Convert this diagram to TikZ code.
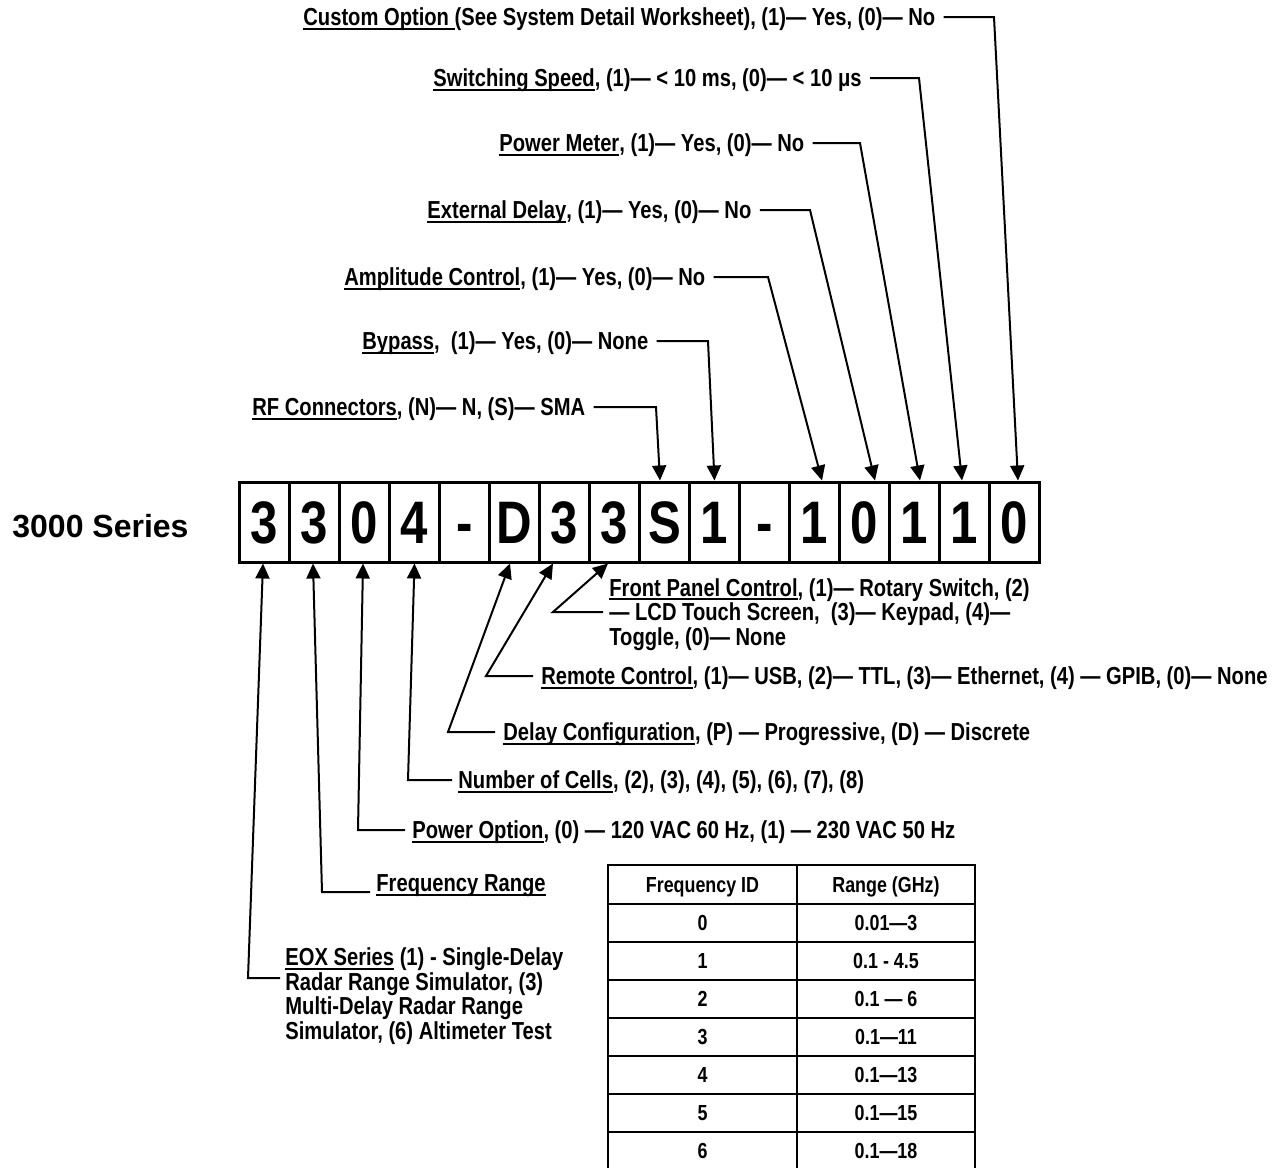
\documentclass[tikz,border=0pt]{standalone}
\usepackage{fontspec}
\setmainfont{Liberation Sans}[FakeStretch=0.82]
\newfontfamily\widefont{Liberation Sans}
\usetikzlibrary{arrows.meta}
\newcommand\ul[1]{\setbox0\hbox{#1}\rlap{\rule[-2.1pt]{\wd0}{1.1pt}}\box0\relax}

\begin{document}
\begin{tikzpicture}[x=0.5pt,y=-0.5pt,
  cell/.style={draw,line width=1.5pt,minimum width=25pt,minimum height=40pt,
    inner sep=0pt,text height=21.5pt,text depth=0pt,
    font=\bfseries\fontsize{30}{30}\selectfont},
  lbl/.style={anchor=west,inner sep=0pt,text height=8.8pt,text depth=0pt,
    font=\bfseries\fontsize{12.3}{12.25}\selectfont},
  para/.style={anchor=base west,inner sep=0pt,align=left,
    font=\bfseries\fontsize{12.3}{12.25}\selectfont},
  tcell/.style={inner sep=0pt,text height=7.8pt,text depth=0pt,
    font=\bfseries\fontsize{10.9}{10.9}\selectfont},
  conn/.style={line width=1pt,-{Triangle[length=7.5pt,width=7pt]}},
  tbl/.style={line width=1.25pt}]
            \useasboundingbox (0,0) rectangle (1281,1168);

            \draw (12,537) node[anchor=base west,inner sep=0pt,
            font=\widefont\bfseries\fontsize{16}{16}\selectfont] (series) {3000 Series};

            % the part number
            \draw (264.5,522) node[cell] (c1) {3};
            \draw (314.5,522) node[cell] (c2) {3};
            \draw (364.5,522) node[cell] (c3) {0};
            \draw (414.5,522) node[cell] (c4) {4};
            \draw (464.5,522) node[cell] (c5) {-};
            \draw (514.5,522) node[cell] (c6) {D};
            \draw (564.5,522) node[cell] (c7) {3};
            \draw (614.5,522) node[cell] (c8) {3};
            \draw (664.5,522) node[cell] (c9) {S};
            \draw (714.5,522) node[cell] (c10) {1};
            \draw (764.5,522) node[cell] (c11) {-};
            \draw (814.5,522) node[cell] (c12) {1};
            \draw (864.5,522) node[cell] (c13) {0};
            \draw (914.5,522) node[cell] (c14) {1};
            \draw (964.5,522) node[cell] (c15) {1};
            \draw (1014.5,522) node[cell] (c16) {0};

            % options above
            \draw (303,17) node[lbl] (custom) {\ul{Custom Option }(See System Detail Worksheet), (1)— Yes, (0)— No};
            \draw (433,78) node[lbl] (speed) {\ul{Switching Speed}, (1)— < 10 ms, (0)— < 10 μs};
            \draw (499,143) node[lbl] (meter) {\ul{Power Meter}, (1)— Yes, (0)— No};
            \draw (427,210) node[lbl] (extdelay) {\ul{External Delay}, (1)— Yes, (0)— No};
            \draw (344,277) node[lbl] (ampl) {\ul{Amplitude Control}, (1)— Yes, (0)— No};
            \draw (362,341) node[lbl] (bypass) {\ul{Bypass}, \ (1)— Yes, (0)— None};
            \draw (252,407) node[lbl] (rfconn) {\ul{RF Connectors}, (N)— N, (S)— SMA};

            \draw[conn] ([xshift=4pt]custom.east) -- (994,17) -- ([xshift=1.75pt]c16.north);
            \draw[conn] ([xshift=4pt]speed.east) -- (919,78) -- ([xshift=-1.25pt]c15.north);
            \draw[conn] ([xshift=4pt]meter.east) -- (860,143) -- ([xshift=2.75pt]c14.north);
            \draw[conn] ([xshift=4pt]extdelay.east) -- (810,210) -- ([xshift=5.25pt]c13.north);
            \draw[conn] ([xshift=4pt]ampl.east) -- (768,277) -- ([xshift=3.75pt]c12.north);
            \draw[conn] ([xshift=4pt]bypass.east) -- (708,341) -- (c10.north);
            \draw[conn] ([xshift=4pt]rfconn.east) -- (656,407) -- ([xshift=-2.25pt]c9.north);

            % options below
            \draw (609,645) node[para] (front) {\ul{Front Panel Control}, (1)— Rotary Switch, (2)\\
            — LCD Touch Screen, \ (3)— Keypad, (4)—\\Toggle, (0)— None};
            \draw (541,676) node[lbl] (remote) {\ul{Remote Control}, (1)— USB, (2)— TTL, (3)— Ethernet, (4) — GPIB, (0)— None};
            \draw (503,732) node[lbl] (delay) {\ul{Delay Configuration}, (P) — Progressive, (D) — Discrete};
            \draw (458,780) node[lbl] (cells) {\ul{Number of Cells}, (2), (3), (4), (5), (6), (7), (8)};
            \draw (412,830) node[lbl] (power) {\ul{Power Option}, (0) — 120 VAC 60 Hz, (1) — 230 VAC 50 Hz};
            \draw (376,883) node[lbl] (freq) {\ul{Frequency Range}};
            \draw (285,1039) node[para] (eox) {\ul{EOX Series} (1) - Single-Delay\\Radar Range Simulator, (3)\\
            Multi-Delay Radar Range\\Simulator, (6) Altimeter Test};

            \coordinate (fk) at (553,612);
            \coordinate (ek) at (248,978);
            \draw[conn,shorten <=3pt] (front.west |- fk) -- (fk) -- ([xshift=-3.25pt]c8.south);
            \draw[conn] ([xshift=-4pt]remote.west) -- (486,676) -- ([xshift=-5.75pt]c7.south);
            \draw[conn] ([xshift=-4pt]delay.west) -- (448,732) -- ([xshift=-2.25pt]c6.south);
            \draw[conn] ([xshift=-3pt]cells.west) -- (408,780) -- (c4.south);
            \draw[conn] ([xshift=-3.5pt]power.west) -- (358,830) -- ([xshift=-.75pt]c3.south);
            \draw[conn] ([xshift=-3pt]freq.south west) -- (322,892) -- ([xshift=-.75pt]c2.south);
            \draw[conn,shorten <=2.5pt] (eox.west |- ek) -- (ek) -- ([xshift=-.75pt]c1.south);

            % frequency table
            \draw[tbl] (608,865) rectangle (975,1171);
            \draw[tbl] (797,865) -- (797,1171);
            \draw[tbl] (608,904) -- (975,904);
            \draw[tbl] (608,942) -- (975,942);
            \draw[tbl] (608,980) -- (975,980);
            \draw[tbl] (608,1018) -- (975,1018);
            \draw[tbl] (608,1056) -- (975,1056);
            \draw[tbl] (608,1094) -- (975,1094);
            \draw[tbl] (608,1132) -- (975,1132);
            \draw (702.5,884.5) node[tcell] (fid) {Frequency ID};
            \draw (886,884.5) node[tcell] (rng) {Range (GHz)};
            \draw (702.5,923) node[tcell] (f0) {0};
            \draw (886,923) node[tcell] (r0) {0.01—3};
            \draw (702.5,961) node[tcell] (f1) {1};
            \draw (886,961) node[tcell] (r1) {0.1 - 4.5};
            \draw (702.5,999) node[tcell] (f2) {2};
            \draw (886,999) node[tcell] (r2) {0.1 — 6};
            \draw (702.5,1037) node[tcell] (f3) {3};
            \draw (886,1037) node[tcell] (r3) {0.1—11};
            \draw (702.5,1075) node[tcell] (f4) {4};
            \draw (886,1075) node[tcell] (r4) {0.1—13};
            \draw (702.5,1113) node[tcell] (f5) {5};
            \draw (886,1113) node[tcell] (r5) {0.1—15};
            \draw (702.5,1151) node[tcell] (f6) {6};
            \draw (886,1151) node[tcell] (r6) {0.1—18};
\end{tikzpicture}
\end{document}
